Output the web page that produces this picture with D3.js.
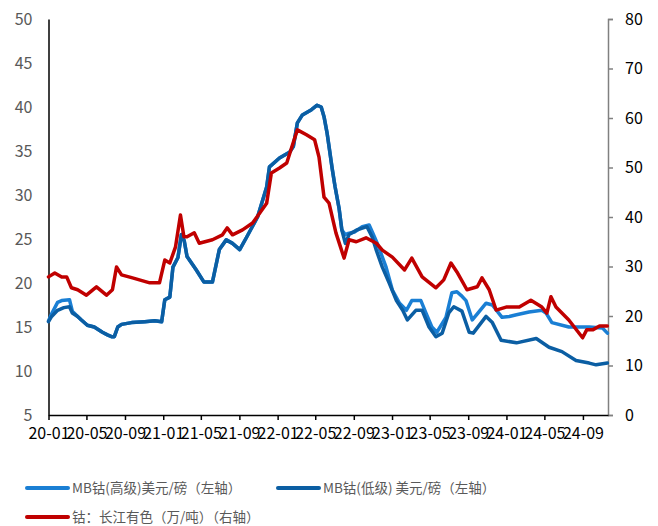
<!DOCTYPE html>
<html>
<head>
<meta charset="utf-8">
<script src="https://cdn.jsdelivr.net/npm/d3@7"></script>
<style>
  body { margin: 0; background: #fff; }
  text { font-family: "Noto Sans CJK SC", "Noto Sans", sans-serif; }
</style>
</head>
<body>
<script>
// MB cobalt, high grade (USD/lb, left axis)
var highDates = ["2020-01-01","2020-01-11","2020-01-30","2020-02-12","2020-03-08","2020-03-17",
  "2020-04-03","2020-04-15","2020-05-04","2020-05-26","2020-06-21","2020-07-07","2020-07-20","2020-07-29",
  "2020-08-09","2020-08-21","2020-09-22","2020-11-03","2020-12-05","2020-12-27","2021-01-06","2021-01-22",
  "2021-02-01","2021-02-17","2021-02-28","2021-03-09","2021-03-18","2021-04-16","2021-05-11","2021-06-07",
  "2021-06-29","2021-07-21","2021-08-10","2021-09-02","2021-09-24","2021-10-29","2021-11-27","2021-12-06",
  "2022-01-07","2022-02-09","2022-02-20","2022-03-05","2022-03-21","2022-04-19","2022-05-07","2022-05-20",
  "2022-05-29","2022-06-08","2022-06-14","2022-06-24","2022-07-03","2022-07-16","2022-07-25","2022-08-05",
  "2022-08-11","2022-09-03","2022-09-28","2022-10-20","2022-10-30","2022-11-15","2022-12-13","2023-01-02",
  "2023-01-25","2023-02-16","2023-03-05","2023-04-03","2023-04-19","2023-05-08","2023-05-24","2023-06-22",
  "2023-07-11","2023-07-27","2023-08-09","2023-08-25","2023-09-14","2023-09-30","2023-10-28","2023-11-17",
  "2023-12-18","2024-01-10","2024-02-02","2024-03-13","2024-04-23","2024-05-06","2024-05-25","2024-07-18",
  "2024-09-21","2024-11-02","2024-11-18"];
var highValues = [15.7,16.5,17.8,18.0,18.1,16.8,
  16.2,15.8,15.2,15.0,14.4,14.1,13.9,13.9,
  15.0,15.3,15.5,15.6,15.7,15.6,18.1,18.4,
  21.8,22.9,25.5,24.8,23.0,21.5,20.1,20.1,
  23.8,24.9,24.5,23.8,25.2,27.5,30.9,33.2,
  34.2,34.9,35.5,38.2,39.1,39.7,40.2,40.0,
  38.9,37.0,35.5,33.0,31.0,28.5,26.0,25.5,
  25.6,25.8,26.4,26.6,25.8,24.5,21.8,19.2,
  17.7,16.9,18.0,18.0,16.6,15.0,14.4,16.1,
  18.9,19.0,18.6,18.0,15.8,16.5,17.7,17.5,
  16.1,16.2,16.4,16.7,16.9,16.6,15.5,15.0,
  15.0,14.9,14.3];

// MB cobalt, low grade (USD/lb, left axis)
var lowDates = ["2020-01-01","2020-01-11","2020-01-30","2020-02-19","2020-03-08","2020-03-17",
  "2020-04-03","2020-04-15","2020-05-04","2020-05-26","2020-06-21","2020-07-07","2020-07-20","2020-07-29",
  "2020-08-09","2020-08-21","2020-09-22","2020-11-03","2020-12-05","2020-12-27","2021-01-06","2021-01-22",
  "2021-02-01","2021-02-17","2021-02-28","2021-03-09","2021-03-18","2021-04-16","2021-05-11","2021-06-07",
  "2021-06-29","2021-07-21","2021-08-10","2021-09-02","2021-09-24","2021-10-29","2021-11-27","2021-12-06",
  "2022-01-07","2022-02-09","2022-02-20","2022-03-05","2022-03-21","2022-04-19","2022-05-07","2022-05-20",
  "2022-05-29","2022-06-08","2022-06-14","2022-06-24","2022-07-03","2022-07-16","2022-07-25","2022-08-05",
  "2022-08-17","2022-09-09","2022-10-13","2022-10-30","2022-11-12","2022-12-01","2022-12-23","2023-01-15",
  "2023-02-04","2023-02-19","2023-03-18","2023-04-07","2023-04-29","2023-05-21","2023-06-10","2023-07-01",
  "2023-07-17","2023-08-12","2023-09-04","2023-09-17","2023-10-28","2023-11-17","2023-12-15","2024-02-02",
  "2024-04-05","2024-05-16","2024-06-26","2024-08-10","2024-09-21","2024-10-13","2024-11-18"];
var lowValues = [15.6,16.2,16.9,17.2,17.3,16.6,
  16.2,15.8,15.2,15.0,14.4,14.1,13.9,13.9,
  15.0,15.3,15.5,15.6,15.7,15.6,18.1,18.4,
  21.8,22.9,25.5,24.8,23.0,21.5,20.1,20.1,
  23.8,24.9,24.5,23.8,25.2,27.5,30.9,33.2,
  34.2,34.9,35.5,38.2,39.1,39.7,40.2,40.0,
  38.9,37.0,35.5,33.0,31.0,28.5,26.0,24.5,
  25.5,26.0,26.4,25.2,23.7,21.8,20.0,18.0,
  16.9,15.8,16.9,16.9,15.0,13.9,14.3,16.6,
  17.3,16.8,14.4,14.3,16.2,15.5,13.5,13.2,
  13.7,12.7,12.2,11.2,10.9,10.7,10.9];

// Cobalt, Changjiang (10k CNY/t, right axis)
var cjDates = ["2020-01-01","2020-01-21","2020-02-12","2020-02-28","2020-03-14","2020-04-03","2020-05-01",
  "2020-06-02","2020-07-04","2020-07-23","2020-08-05","2020-08-21","2020-09-25","2020-11-19","2020-12-20",
  "2021-01-06","2021-01-22","2021-02-09","2021-02-25","2021-03-08","2021-03-18","2021-04-10","2021-04-26",
  "2021-06-07","2021-07-09","2021-07-24","2021-08-10","2021-09-11","2021-10-13","2021-11-05","2021-11-27",
  "2021-12-12","2022-01-07","2022-01-30","2022-02-14","2022-03-05","2022-04-03","2022-04-29","2022-05-13",
  "2022-05-29","2022-06-14","2022-07-06","2022-08-01","2022-08-17","2022-09-09","2022-10-10","2022-11-12",
  "2022-12-01","2023-01-02","2023-02-10","2023-03-05","2023-04-07","2023-05-21","2023-06-15","2023-07-08",
  "2023-07-27","2023-08-28","2023-09-30","2023-10-15","2023-11-07","2023-11-29","2023-12-31","2024-02-11",
  "2024-03-19","2024-04-23","2024-05-09","2024-05-22","2024-06-07","2024-07-18","2024-08-31","2024-09-13",
  "2024-10-02","2024-10-24","2024-11-18"];
var cjValues = [27.9,28.7,27.9,27.9,25.7,25.3,24.2,
  25.9,24.2,25.3,29.9,28.3,27.7,26.7,26.7,
  31.3,30.7,33.9,40.4,36.0,36.0,36.8,34.7,
  35.4,36.4,37.8,36.4,37.4,38.8,40.8,42.8,
  48.9,49.9,50.9,53.9,57.6,56.6,55.6,52.1,
  44.0,42.8,36.8,31.7,35.4,35.0,35.8,34.7,
  33.3,31.9,29.3,31.7,27.9,25.7,27.3,30.7,
  28.9,25.3,25.9,27.7,25.3,21.2,21.8,21.8,
  23.2,21.8,20.6,23.9,21.8,19.2,15.6,17.2,
  17.2,18.0,18.0];

var leftTicks = [5,10,15,20,25,30,35,40,45,50];
var rightTicks = [0,10,20,30,40,50,60,70,80];
var xTickDates = ["2020-01","2020-05","2020-09","2021-01","2021-05","2021-09","2022-01","2022-05",
  "2022-09","2023-01","2023-05","2023-09","2024-01","2024-05","2024-09"];

var legendNames = ["MB钴(高级)美元/磅（左轴）","MB钴(低级) 美元/磅（左轴）","钴：长江有色（万/吨）（右轴）"];
var colors = ["#1A7FD4","#0B5EA3","#C00000"];

var W = 658, H = 526;
var mLeft = 48.5, mRight = 608, mTop = 19, mBottom = 415;

var parse = d3.timeParse("%Y-%m-%d");
var parseM = d3.timeParse("%Y-%m");
var fmt = d3.timeFormat("%y-%m");

var x = d3.scaleTime().domain([parse("2020-01-01"), parse("2024-11-20")]).range([mLeft, mRight]);
var yL = d3.scaleLinear().domain([5,50]).range([mBottom, mTop]);
var yR = d3.scaleLinear().domain([0,80]).range([mBottom, mTop]);

const svg = d3.select("body").append("svg").attr("width", W).attr("height", H);

// left axis
var gL = svg.append("g").attr("transform", "translate(" + mLeft + ",0)")
  .call(d3.axisLeft(yL).tickValues(leftTicks).tickSize(0).tickPadding(16));
gL.select(".domain").attr("stroke", "#000").attr("stroke-width", 1.5);
gL.selectAll("text").attr("fill", "#595959").style("font-size", "16px");

// right axis
var gR = svg.append("g").attr("transform", "translate(" + mRight + ",0)")
  .call(d3.axisRight(yR).tickValues(rightTicks).tickSizeInner(5).tickSizeOuter(5).tickPadding(12));
gR.select(".domain").attr("stroke", "#808080").attr("stroke-width", 1.5);
gR.selectAll("line").attr("stroke", "#808080").attr("stroke-width", 1.5);
gR.selectAll("text").attr("fill", "#000").style("font-size", "16px");

// x axis
var gX = svg.append("g").attr("transform", "translate(0," + mBottom + ")")
  .call(d3.axisBottom(x).tickValues(xTickDates.map(parseM)).tickFormat(fmt).tickSizeInner(5).tickSizeOuter(0).tickPadding(8));
gX.select(".domain").attr("stroke", "#000").attr("stroke-width", 1.5);
gX.selectAll("line").attr("stroke", "#000").attr("stroke-width", 1.5);
gX.selectAll("text").attr("fill", "#000").style("font-size", "16px");

// lines
var lineL = d3.line().x(function(d){ return x(d[0]); }).y(function(d){ return yL(d[1]); });
var lineR = d3.line().x(function(d){ return x(d[0]); }).y(function(d){ return yR(d[1]); });

var series = [
  {pts: d3.zip(highDates.map(parse), highValues), line: lineL},
  {pts: d3.zip(lowDates.map(parse), lowValues), line: lineL},
  {pts: d3.zip(cjDates.map(parse), cjValues), line: lineR}
];

series.forEach(function(s, i) {
  svg.append("path").datum(s.pts)
    .attr("d", s.line)
    .attr("fill", "none")
    .attr("stroke", colors[i])
    .attr("stroke-width", 3.5)
    .attr("stroke-linejoin", "round")
    .attr("stroke-linecap", "round");
});

// legend
var legPos = [[27, 488], [278, 488], [27, 517]];
legendNames.forEach(function(name, i) {
  var g = svg.append("g").attr("transform", "translate(" + legPos[i][0] + "," + legPos[i][1] + ")");
  g.append("line").attr("x1", 0).attr("x2", 41).attr("y1", 0).attr("y2", 0)
    .attr("stroke", colors[i]).attr("stroke-width", 4).attr("stroke-linecap", "round");
  g.append("text").attr("x", 45).attr("y", 0).attr("dy", "0.35em")
    .attr("fill", "#595959").style("font-size", "13.5px").text(name);
});
</script>
</body>
</html>
